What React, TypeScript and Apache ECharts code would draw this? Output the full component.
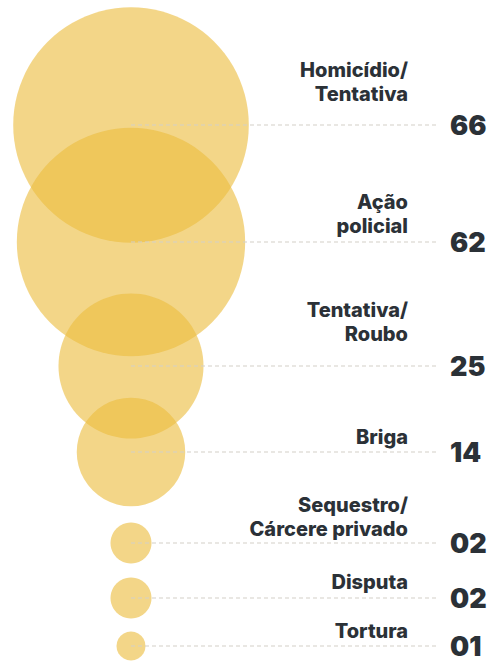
import React, { useEffect, useRef } from "react";
import * as echarts from "echarts";

// Data
const categories = [
  "Homicídio/\nTentativa",
  "Ação\npolicial",
  "Tentativa/\nRoubo",
  "Briga",
  "Sequestro/\nCárcere privado",
  "Disputa",
  "Tortura",
];
const values = [66, 62, 25, 14, 2, 2, 1];

// Layout (pixel positions in a 501x661 frame)
const rowY = [125, 242, 366, 452, 543, 598, 646];
const labelGap = [23, 8, 24, 7, 6, 8, 7];
const CX = 131;
const LINE_END = 437;
const LABEL_RIGHT = 408;
const VALUE_LEFT = 450;
const RADIUS_K = 14.5;

export default function App() {
  const ref = useRef<HTMLDivElement>(null);
  useEffect(() => {
    document.body.style.margin = "0";
    const chart = echarts.init(ref.current!, undefined, { renderer: "svg" });
    const scatterData = values.map((v, i) => [CX, rowY[i], v]);
    const customData = values.map((v, i) => [CX, rowY[i], v, i]);
    chart.setOption({
      animation: false,
      grid: { left: 0, right: 0, top: 0, bottom: 0 },
      xAxis: { type: "value", min: 0, max: 501, show: false },
      yAxis: { type: "value", min: 0, max: 661, inverse: true, show: false },
      series: [
        {
          type: "scatter",
          data: scatterData,
          symbol: "circle",
          symbolSize: (d: number[]) => 2 * RADIUS_K * Math.sqrt(d[2]),
          itemStyle: { color: "rgba(236,190,64,0.78)" },
          z: 1,
          silent: true,
        },
        {
          type: "custom",
          data: customData,
          z: 2,
          silent: true,
          renderItem: (params: any, api: any) => {
            const i = api.value(3);
            const p = api.coord([api.value(0), api.value(1)]);
            const end = api.coord([LINE_END, api.value(1)]);
            const lab = api.coord([LABEL_RIGHT, api.value(1) - labelGap[i]]);
            const vp = api.coord([VALUE_LEFT, api.value(1)]);
            const v = api.value(2);
            return {
              type: "group",
              children: [
                {
                  type: "line",
                  shape: { x1: p[0], y1: p[1], x2: end[0], y2: end[1] },
                  style: { stroke: "#d3cfc8", lineWidth: 1.2, lineDash: [4, 3] },
                },
                {
                  type: "text",
                  x: lab[0],
                  y: lab[1] + 4,
                  style: {
                    text: categories[i],
                    align: "right",
                    verticalAlign: "bottom",
                    fontFamily: "Inter",
                    fontWeight: 800,
                    fontSize: 20,
                    lineHeight: 24,
                    fill: "#2b3137",
                  },
                },
                {
                  type: "text",
                  x: vp[0],
                  y: vp[1],
                  style: {
                    text: String(v).padStart(2, "0"),
                    align: "left",
                    verticalAlign: "middle",
                    fontFamily: "Inter",
                    fontWeight: 900,
                    fontSize: 27,
                    lineHeight: 24,
                    fill: "#2b3137",
                  },
                },
              ],
            };
          },
        },
      ],
    });
    return () => chart.dispose();
  }, []);
  return <div ref={ref} style={{ width: 501, height: 661 }} />;
}
